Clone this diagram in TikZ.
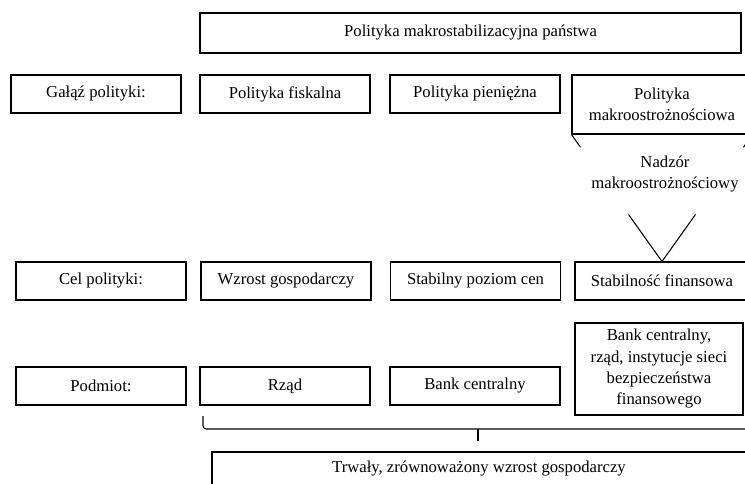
\documentclass[tikz,border=0pt]{standalone}
\usepackage{fontspec}
\setmainfont{Liberation Serif}
\usetikzlibrary{calc,positioning}

\tikzset{
  ramka/.style={draw, line width=0.8pt, align=center, inner sep=2pt,
    minimum width=127.5pt, minimum height=28.5pt},
  linia/.style={line width=0.8pt}
}

\begin{document}
\begin{tikzpicture}[
      x=0.75pt, y=-0.75pt,
      every node/.style={font=\fontsize{12.5pt}{16pt}\selectfont}
    ]
      \useasboundingbox (0,0) rectangle (745,484);
      \clip (0,0) rectangle (745,484);
      % naglowek
      \node[ramka, minimum width=405.75pt, minimum height=30pt] (tytul) at (470.5,33) {Polityka makrostabilizacyjna państwa};
      % galaz polityki
      \node[ramka] (galaz) at (96,94) {Gałąź polityki:};
      \node[ramka] (fisk) at (285,94) {Polityka fiskalna};
      \node[ramka] (pien) at (475,94) {Polityka pieniężna};
      \node[ramka, minimum width=135pt, minimum height=44.25pt] (makro) at (662,104.5) {Polityka\\makroostrożnościowa};
      \node (nadzor) at (665,174) [align=center] {Nadzór\\makroostrożnościowy};
      % cel polityki
      \node[ramka] (cel) at (101,281) {Cel polityki:};
      \node[ramka] (wzrost) at (286,281) {Wzrost gospodarczy};
      \node[ramka] (ceny) at (475.5,281) {Stabilny poziom cen};
      \node[ramka, minimum width=130.5pt] (stab) at (662,281) {Stabilność finansowa};
      % podmiot
      \node[ramka] (podmiot) at (101,386) {Podmiot:};
      \node[ramka] (rzad) at (285,386) {Rząd};
      \node[ramka] (bank) at (475,386) {Bank centralny};
      \node[ramka, minimum width=126pt, minimum height=69pt] (siec) at (659,369) {Bank centralny,\\rząd, instytucje sieci\\bezpieczeństwa\\finansowego};
      % efekt
      \node[ramka, minimum width=400.5pt, minimum height=25.5pt] (trwaly) at (479,469) {Trwały, zrównoważony wzrost gospodarczy};

      \draw[linia] (makro.south west) -- ($(makro.south west)!0.1!(stab.north)$);
      \draw[linia] ($(makro.south west)!0.63!(stab.north)$) -- (stab.north);
      \draw[linia] (makro.south east) -- ($(makro.south east)!0.1!(stab.north)$);
      \draw[linia] ($(makro.south east)!0.63!(stab.north)$) -- (stab.north);

      % klamra
      \coordinate (klamraL) at (203,416);
      \coordinate (klamraP) at (753,416);
      \coordinate (klamraS) at (478,441);
      \draw[linia, rounded corners=2.5pt] (klamraL) -- (klamraL |- 0,429) -- (klamraP |- 0,429) -- (klamraP);
      \draw[linia] (klamraS |- 0,429) -- (klamraS);
    \end{tikzpicture}
\end{document}
